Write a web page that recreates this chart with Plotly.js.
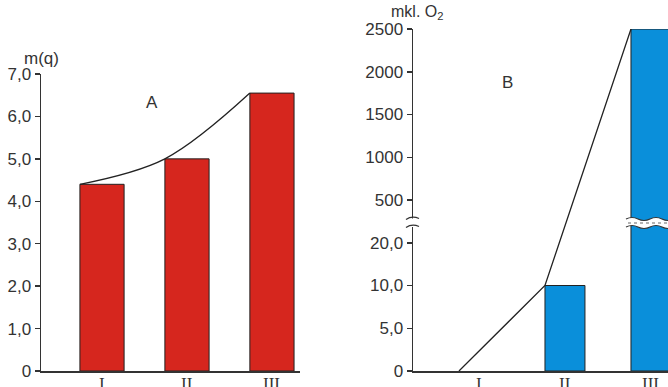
<!DOCTYPE html>
<html>
<head>
<meta charset="utf-8">
<script src="https://cdn.plot.ly/plotly-3.0.1.min.js"></script>
<style>html,body{margin:0;padding:0;background:#fff;}#chart{width:668px;height:387px;}</style>
</head>
<body>
<div id="chart"></div>
<script>
// ---- data ----
const categories = ['I', 'II', 'III'];
const massValues = [4.4, 5.0, 6.55];            // chart A, m(q)
const oxygenValues = [0, 10, 2500];              // chart B, mkl. O2
const aTickVals = [0, 1, 2, 3, 4, 5, 6, 7];
const aTickText = ['0', '1,0', '2,0', '3,0', '4,0', '5,0', '6,0', '7,0'];
const bTickVals = [0, 5, 10, 20, 500, 1000, 1500, 2000, 2500];
const bTickText = ['0', '5,0', '10,0', '20,0', '500', '1000', '1500', '2000', '2500'];

// ---- helpers ----
const W = 668, H = 387;
const px = x => x / W;
const py = y => 1 - y / H;
const P = (x, y) => px(x).toFixed(5) + ',' + py(y).toFixed(5);

// broken axis: value -> position (equal spacing between listed ticks)
function toPos(v) {
  for (let i = 0; i < bTickVals.length - 1; i++) {
    if (v <= bTickVals[i + 1]) return i + (v - bTickVals[i]) / (bTickVals[i + 1] - bTickVals[i]);
  }
  return bTickVals.length - 1;
}
const idx = categories.map((c, i) => i);
const barWA = 0.52, barWB = 0.465;
const bPos = oxygenValues.map(toPos);

const red = '#D6261E', blue = '#0A8FDA', ink = '#333333';

const traces = [
  { type: 'bar', x: idx, y: massValues, width: barWA,
    marker: { color: red, line: { color: '#222', width: 1 } }, xaxis: 'x', yaxis: 'y', hoverinfo: 'none' },
  { type: 'scatter', mode: 'lines', x: idx.map(i => i - barWA / 2), y: massValues,
    line: { color: '#222', width: 1.3, shape: 'spline', smoothing: 1 }, xaxis: 'x', yaxis: 'y', hoverinfo: 'none' },
  { type: 'bar', x: idx.slice(1), y: bPos.slice(1), width: barWB,
    marker: { color: blue, line: { color: '#222', width: 1 } }, xaxis: 'x2', yaxis: 'y2', hoverinfo: 'none' },
  { type: 'scatter', mode: 'lines', x: idx.map(i => i - barWB / 2), y: bPos,
    line: { color: '#222', width: 1.3 }, xaxis: 'x2', yaxis: 'y2', hoverinfo: 'none' }
];

const tickFont = { family: 'Liberation Sans, Arial, sans-serif', size: 17, color: ink };
const catFont = { family: 'Liberation Serif, Times New Roman, serif', size: 17, color: ink };

const axBase = { showgrid: false, zeroline: false, showline: true, linecolor: ink, linewidth: 1.5, fixedrange: true };

function label(text, x, y, extra) {
  return Object.assign({ text: text, x: px(x), y: py(y), xref: 'paper', yref: 'paper',
    xanchor: 'center', yanchor: 'middle', showarrow: false, font: tickFont }, extra || {});
}
// category labels under each axis, placed through the x axes
const catLabels = [];
['x', 'x2'].forEach(ax => categories.forEach((c, i) => catLabels.push({
  text: c, x: i, xref: ax, y: py(372), yref: 'paper', xanchor: 'center', yanchor: 'top',
  showarrow: false, font: catFont })));

const layout = {
  width: W, height: H,
  margin: { l: 0, r: 0, t: 0, b: 0 },
  paper_bgcolor: '#fff', plot_bgcolor: 'rgba(0,0,0,0)',
  showlegend: false,
  xaxis: Object.assign({}, axBase, { domain: [px(41), px(300)], range: [-0.718, 2.33], anchor: 'y',
    tickvals: idx, ticks: '', showticklabels: false }),
  yaxis: Object.assign({}, axBase, { domain: [py(371), py(74)], range: [0, 7], anchor: 'x',
    tickvals: aTickVals, ticktext: aTickText, ticks: 'outside', ticklen: 5, tickwidth: 1.5, tickcolor: ink, tickfont: tickFont }),
  xaxis2: Object.assign({}, axBase, { domain: [px(413), 1], range: [-0.767, 2.198], anchor: 'y2',
    tickvals: idx, ticks: '', showticklabels: false }),
  yaxis2: Object.assign({}, axBase, { domain: [py(371), py(29)], range: [0, 8], anchor: 'x2',
    tickvals: bTickVals.map(toPos), ticktext: bTickText, ticks: 'outside', ticklen: 5, tickwidth: 1.5, tickcolor: ink, tickfont: tickFont }),
  annotations: [
    label('m(q)', 41.5, 59),
    label('A', 152, 102),
    label('B', 507, 83),
    label('mkl. O<sub>2</sub>', 389, 12, { xanchor: 'left', font: { family: tickFont.family, size: 16, color: ink } })
  ].concat(catLabels),
  shapes: [
    // axis break on chart B y-axis
    { type: 'rect', xref: 'paper', yref: 'paper', x0: px(405), x1: px(421), y0: py(218.5), y1: py(227), fillcolor: '#fff', line: { width: 0 }, layer: 'above' },
    { type: 'path', xref: 'paper', yref: 'paper', layer: 'above', line: { color: ink, width: 1.3 },
      path: 'M' + P(406, 219.5) + ' Q' + P(412, 215.5) + ' ' + P(419, 218.5) },
    { type: 'path', xref: 'paper', yref: 'paper', layer: 'above', line: { color: ink, width: 1.3 },
      path: 'M' + P(406, 227.5) + ' Q' + P(412, 223.5) + ' ' + P(419, 226.5) },
    // wavy break band across bar III
    { type: 'path', xref: 'paper', yref: 'paper', layer: 'above', fillcolor: '#fff', line: { width: 0 },
      path: 'M' + P(626, 219) + ' Q' + P(632, 216) + ' ' + P(638, 219) + ' Q' + P(644, 222) + ' ' + P(650, 219) +
            ' Q' + P(656, 216) + ' ' + P(662, 219) + ' Q' + P(668, 222) + ' ' + P(674, 219) +
            ' L' + P(674, 227) + ' Q' + P(668, 230) + ' ' + P(662, 227) + ' Q' + P(656, 224) + ' ' + P(650, 227) +
            ' Q' + P(644, 230) + ' ' + P(638, 227) + ' Q' + P(632, 224) + ' ' + P(626, 227) + ' Z' },
    { type: 'path', xref: 'paper', yref: 'paper', layer: 'above', line: { color: ink, width: 1.2 },
      path: 'M' + P(626, 219) + ' Q' + P(632, 216) + ' ' + P(638, 219) + ' Q' + P(644, 222) + ' ' + P(650, 219) +
            ' Q' + P(656, 216) + ' ' + P(662, 219) + ' Q' + P(668, 222) + ' ' + P(674, 219) },
    { type: 'path', xref: 'paper', yref: 'paper', layer: 'above', line: { color: ink, width: 1.2 },
      path: 'M' + P(626, 227) + ' Q' + P(632, 224) + ' ' + P(638, 227) + ' Q' + P(644, 230) + ' ' + P(650, 227) +
            ' Q' + P(656, 224) + ' ' + P(662, 227) + ' Q' + P(668, 230) + ' ' + P(674, 227) },
    { type: 'line', xref: 'paper', yref: 'paper', layer: 'above', x0: px(628), x1: px(668), y0: py(223), y1: py(223),
      line: { color: '#9a9a9a', width: 1.5, dash: 'dot' } }
  ]
};

Plotly.newPlot('chart', traces, layout, { staticPlot: true, displayModeBar: false });
</script>
</body>
</html>
